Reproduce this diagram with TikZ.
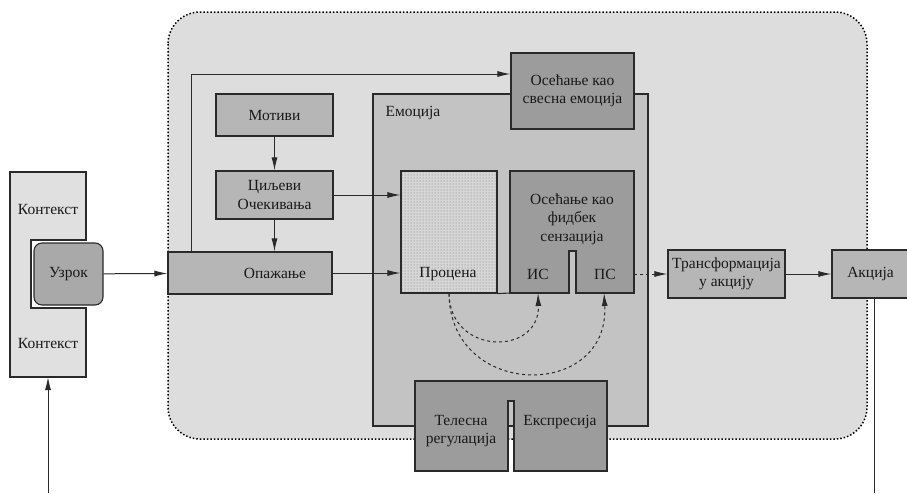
\documentclass[tikz,border=0pt]{standalone}
\usepackage{fontspec}
\setmainfont{Liberation Serif}
\usetikzlibrary{arrows.meta,patterns}
\definecolor{outerfill}{HTML}{DDDDDD}
\definecolor{ctxfill}{HTML}{E0E0E0}
\definecolor{emofill}{HTML}{C3C3C3}
\definecolor{midfill}{HTML}{B6B6B6}
\definecolor{darkfill}{HTML}{9C9C9C}
\definecolor{causefill}{HTML}{A9A9A9}
\definecolor{procfill}{HTML}{D6D6D6}
\definecolor{edge}{HTML}{2A2A2A}

\begin{document}
\begin{tikzpicture}[x=1pt,y=-1pt]
\tikzstyle every node=[font=\fontsize{15.5}{18.5}\selectfont, text=black!90, align=center]
\tikzstyle mybox=[draw=edge, line width=1.1pt, fill=midfill, inner sep=0pt]
\tikzstyle darkbox=[mybox, fill=darkfill]
\tikzstyle arr=[draw=edge, line width=1pt, -{Latex[length=13pt,width=6pt]}]
\tikzstyle darr=[arr, dashed]
\useasboundingbox (0,0) rectangle (907,493);
% outer region
\draw[dotted, line width=1.5pt, fill=outerfill, rounded corners=32] (168,12) rectangle (867,439);
% context with cause
\draw[draw=edge, line width=1.1pt, fill=ctxfill] (10,172) -- (86,172) -- (86,240) -- (31,240) -- (31,308) -- (86,308) -- (86,377) -- (10,377) -- cycle;
\node (ctxtop) at (48,209) {Контекст};
\node (ctxbot) at (48,343) {Контекст};
\coordinate (ctxin) at (48,377);
\coordinate (start) at (48,493);
\node[mybox, fill=causefill, rounded corners=8, minimum width=69, minimum height=62] (cause) at (68.5,274) {Узрок};
% perception side
\node[mybox, minimum width=164, minimum height=42] (opaz) at (250,273) {};
\node (opaztext) at (275,273) {Опажање};
\node[mybox, minimum width=117, minimum height=42] (motiv) at (274.5,115) {Мотиви};
\node[mybox, minimum width=117, minimum height=48] (cilj) at (274.5,195) {Циљеви\\Очекивања};
% emotion
\node[mybox, fill=emofill, minimum width=275, minimum height=332] (emo) at (510.5,260) {};
\node[anchor=west] (emotext) at (382,113) {Емоција};
\node[darkbox, minimum width=123, minimum height=76] (svesna) at (572.5,91) {Осећање као\\свесна емоција};
\node[mybox, preaction={fill=procfill}, fill=none, pattern=dots, pattern color=black!55, minimum width=96, minimum height=122] (proc) at (449,232) {};
\node (proctext) at (448,274) {Процена};
\draw[draw=edge, line width=1.1pt] (proc.south east) -- (510,293);
\draw[draw=edge, line width=1.1pt, fill=darkfill] (510,171) -- (634,171) -- (634,293) -- (576,293) -- (576,251) -- (569,251) -- (569,293) -- (510,293) -- cycle;
\node (fidbek) at (572,219) {Осећање као\\фидбек\\сензација};
\node (is) at (538,274) {ИС};
\node (ps) at (605,274) {ПС};
\coordinate (isin) at (538,293);
\coordinate (psin) at (604,293);
\coordinate (psout) at (634,274);
% body regulation and expression
\draw[draw=edge, line width=1.1pt, fill=darkfill] (415,381) -- (607,381) -- (607,471) -- (514,471) -- (514,401) -- (508,401) -- (508,471) -- (415,471) -- cycle;
\node (telo) at (461,431) {Телесна\\регулација};
\node (ekspr) at (560,422) {Експресија};
% action
\node[mybox, minimum width=117, minimum height=48] (transf) at (726.5,274) {Трансформација\\у акцију};
\node[mybox, minimum width=77, minimum height=48] (akc) at (870.5,274) {Акција};
\coordinate (akcout) at (874,298);
\coordinate (end) at (874,493);
% connectors
\draw[arr] (start) -- (ctxin);
\draw[arr] (cause) -- (opaz);
\draw[arr] (motiv) -- (cilj);
\draw[arr] (cilj.south) -- (cilj.south |- opaz.north);
\draw[arr] (cilj.east) -- (proc.west |- cilj.east);
\draw[arr] (opaz.east) -- (proc.west |- opaz.east);
\draw[arr] (opaz.north west) ++(24,0) |- ([yshift=17pt]svesna.west);
\draw[darr] (proc.south) .. controls (450,356) and (540,356) .. (isin);
\draw[darr] (proc.south) .. controls (450,400) and (610,400) .. (psin);
\draw[darr] (psout) -- (transf);
\draw[arr] (transf) -- (akc);
\draw[draw=edge, line width=1pt] (akcout) -- (end);
\end{tikzpicture}
\end{document}
